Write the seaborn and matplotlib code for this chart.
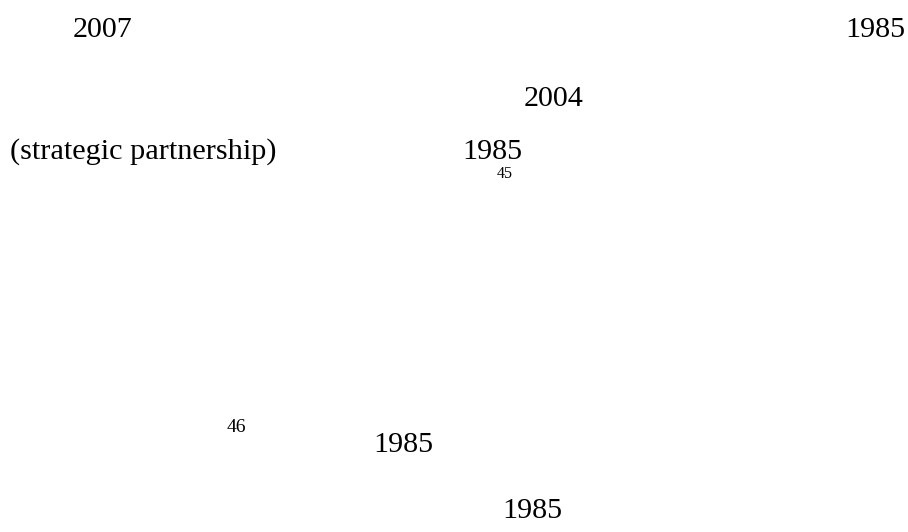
import matplotlib
matplotlib.use('Agg')

import matplotlib.pyplot as plt
import seaborn as sns

sns.set_theme(style="white")
plt.rcParams['font.family'] = ['Liberation Serif', 'DejaVu Serif']

# text fragments visible on the page
labels = ["2007", "1985", "2004", "(strategic partnership)", "1985",
          "45", "46", "1985", "1985"]

# layout (pixels from top-left, baseline), kept apart from the labels
pos_x = [73, 845, 524, 10, 462, 497, 227, 373, 502]
pos_y = [37, 37, 106, 159, 159, 178, 432, 452, 518]
sizes = [21.6, 21.6, 21.6, 21.8, 21.6, 11.5, 14, 21.6, 21.6]

fig = plt.figure(figsize=(9.08, 5.32), dpi=100)
ax = fig.add_axes([0, 0, 1, 1])
ax.set_xlim(0, 908)
ax.set_ylim(532, 0)
ax.axis('off')

for lab, x, y, s in zip(labels, pos_x, pos_y, sizes):
    ax.text(x, y, lab, fontsize=s, color='black', ha='left', va='baseline')

plt.savefig("out.png", dpi=100, facecolor='white')
